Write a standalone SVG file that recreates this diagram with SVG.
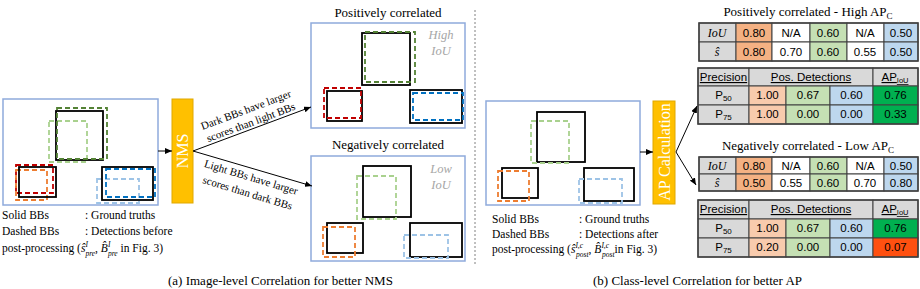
<svg xmlns="http://www.w3.org/2000/svg" width="920" height="289" viewBox="0 0 920 289">
<defs>
<marker id="ah" markerWidth="8" markerHeight="6" refX="7" refY="3" orient="auto" markerUnits="userSpaceOnUse">
<path d="M0,0 L7,3 L0,6 Z" fill="#000"/>
</marker>
<style>
.panel{fill:#fff;stroke:#8FAADC;stroke-width:1.5}
.gt{fill:none;stroke:#000;stroke-width:1.8}
.d{fill:none;stroke-width:1.8;stroke-dasharray:5 3}
.dg{stroke:#548235}.lg{stroke:#A9D18E}.rd{stroke:#C00000}.or{stroke:#ED7D31}.bl{stroke:#0070C0}.lb{stroke:#9DC3E6}
.t{font-family:"Liberation Serif","Times New Roman",serif;fill:#000}
.leg{font-size:11.5px}
.sc{font-style:italic;font-size:7.5px}
.ttl{font-size:13px}
.iou{font-family:"Liberation Serif",serif;font-style:italic;font-size:12.5px;fill:#A6A6A6;text-anchor:middle}
.proc{fill:#FFC000;stroke:#E0A800;stroke-width:1}
.proct{font-family:"Liberation Serif",serif;font-size:16px;fill:#fff;text-anchor:middle}
.c{stroke:#404040;stroke-width:1}
.gray{fill:#D9D9D9}.w{fill:#fff}.o1{fill:#F4B183}.o2{fill:#F8CBAD}.g{fill:#C5E0B4}.b{fill:#BDD7EE}.ag{fill:#00B050}.ar{fill:#FF5010}
.tx{font-family:"Liberation Sans",Arial,sans-serif;font-size:11.5px;fill:#000;text-anchor:middle}
.it{font-family:"Liberation Serif",serif;font-style:italic;font-size:12px;fill:#000;text-anchor:middle}
.conn{stroke:#000;stroke-width:1;fill:none;marker-end:url(#ah)}
.dot{stroke:#808080;stroke-width:1;stroke-dasharray:2 2}
</style>
</defs>

<g id="panel-a-input">
<rect class="panel" x="3" y="99" width="155" height="106"/>
<rect class="d lg" x="49" y="121" width="38" height="41"/>
<rect class="gt" x="56" y="111" width="47" height="49"/>
<rect class="d dg" x="57" y="108" width="50" height="51"/>
<rect class="d rd" x="16" y="165" width="37" height="28"/>
<rect class="d or" x="16" y="170" width="31" height="30"/>
<rect class="gt" x="19" y="167" width="37" height="30"/>
<rect class="d lb" x="97" y="179" width="42" height="24"/>
<rect class="gt" x="102" y="167" width="51" height="33"/>
<rect class="d bl" x="106" y="169" width="49" height="28"/>
</g>
<g id="legend-a" class="t leg">
<text x="2" y="219">Solid BBs</text><text x="85" y="219">: Ground truths</text>
<text x="2" y="235">Dashed BBs</text><text x="85" y="235">: Detections before</text>
<text x="2" y="252">post-processing (<tspan font-style="italic">ŝ</tspan><tspan class="sc" dy="-5.5">I</tspan><tspan class="sc" dx="-2.5" dy="9.5">pre</tspan><tspan dy="-4">, </tspan><tspan font-style="italic">B̂</tspan><tspan class="sc" dy="-5.5">I</tspan><tspan class="sc" dx="-2.5" dy="9.5">pre</tspan><tspan dy="-4"> in Fig. 3)</tspan></text>
</g>

<g id="nms">
<rect class="proc" x="172" y="99" width="21" height="104"/>
<text class="proct" transform="translate(188,151) rotate(-90)" x="0" y="0">NMS</text>
</g>

<g id="panel-a-pos">
<text class="t ttl" x="388" y="17" text-anchor="middle">Positively correlated</text>
<rect class="panel" x="311" y="23" width="154" height="105"/>
<rect class="gt" x="362" y="33" width="48" height="52"/>
<rect class="d dg" x="365" y="32" width="50" height="50"/>
<rect class="gt" x="327" y="91" width="35" height="30"/>
<rect class="d rd" x="324" y="88" width="37" height="30"/>
<rect class="gt" x="410" y="90" width="52" height="33"/>
<rect class="d bl" x="413" y="93" width="50" height="27"/>
<text class="iou" x="441" y="39">High</text>
<text class="iou" x="441" y="55">IoU</text>
</g>

<g id="panel-a-neg">
<text class="t ttl" x="388" y="149" text-anchor="middle">Negatively correlated</text>
<rect class="panel" x="311" y="156" width="154" height="105"/>
<rect class="gt" x="363" y="166" width="48" height="51"/>
<rect class="d lg" x="357" y="176" width="39" height="43"/>
<rect class="gt" x="327" y="223" width="36" height="30"/>
<rect class="d or" x="323" y="227" width="32" height="30"/>
<rect class="gt" x="410" y="223" width="52" height="34"/>
<rect class="d lb" x="404" y="235" width="44" height="23"/>
<text class="iou" x="441" y="173">Low</text>
<text class="iou" x="441" y="189">IoU</text>
</g>

<g id="panel-b-input">
<rect class="panel" x="486" y="101" width="154" height="104"/>
<rect class="gt" x="537" y="112" width="48" height="50"/>
<rect class="d lg" x="531" y="121" width="38" height="42"/>
<rect class="gt" x="502" y="168" width="36" height="30"/>
<rect class="d or" x="498" y="171" width="31" height="30"/>
<rect class="gt" x="584" y="168" width="50" height="33"/>
<rect class="d lb" x="579" y="179" width="43" height="24"/>
</g>
<g id="legend-b" class="t leg">
<text x="492" y="223">Solid BBs</text><text x="579" y="223">: Ground truths</text>
<text x="492" y="238">Dashed BBs</text><text x="579" y="238">: Detections after</text>
<text x="492" y="253">post-processing (<tspan font-style="italic">ŝ</tspan><tspan class="sc" dy="-5.5">I,c</tspan><tspan class="sc" dx="-7" dy="9.5">post</tspan><tspan dy="-4">, </tspan><tspan font-style="italic">B̂</tspan><tspan class="sc" dy="-5.5">I,c</tspan><tspan class="sc" dx="-7" dy="9.5">post</tspan><tspan dy="-4">in Fig. 3)</tspan></text>
</g>

<g id="ap-calc">
<rect class="proc" x="653" y="101" width="22" height="103"/>
<text class="proct" transform="translate(670,152) rotate(-90)" x="0" y="0">AP Calculation</text>
</g>

<g id="table-pos-scores">
<text class="t ttl" x="808" y="16" text-anchor="middle">Positively correlated - High AP<tspan font-size="9px" dy="3">C</tspan></text>
<rect class="c gray" x="699" y="23" width="37" height="19"/><rect class="c o1" x="736" y="23" width="36" height="19"/><rect class="c w" x="772" y="23" width="38" height="19"/><rect class="c g" x="810" y="23" width="37" height="19"/><rect class="c w" x="847" y="23" width="37" height="19"/><rect class="c b" x="884" y="23" width="34" height="19"/>
<rect class="c gray" x="699" y="42" width="37" height="19"/><rect class="c o1" x="736" y="42" width="36" height="19"/><rect class="c w" x="772" y="42" width="38" height="19"/><rect class="c g" x="810" y="42" width="37" height="19"/><rect class="c w" x="847" y="42" width="37" height="19"/><rect class="c b" x="884" y="42" width="34" height="19"/>
<rect x="699" y="23" width="219" height="38" fill="none" stroke="#404040" stroke-width="1.5"/>
<text class="it" x="717" y="37">IoU</text><text class="tx" x="754" y="37">0.80</text><text class="tx" x="791" y="37">N/A</text><text class="tx" x="828" y="37">0.60</text><text class="tx" x="865" y="37">N/A</text><text class="tx" x="901" y="37">0.50</text>
<text class="it" x="717" y="56">ŝ</text><text class="tx" x="754" y="56">0.80</text><text class="tx" x="791" y="56">0.70</text><text class="tx" x="828" y="56">0.60</text><text class="tx" x="865" y="56">0.55</text><text class="tx" x="901" y="56">0.50</text>
</g>

<g id="table-pos-ap">
<rect class="c gray" x="698" y="68" width="51" height="18"/><rect class="c gray" x="749" y="68" width="124" height="18"/><rect class="c gray" x="873" y="68" width="45" height="18"/>
<rect class="c gray" x="698" y="86" width="51" height="19"/><rect class="c o2" x="749" y="86" width="37" height="19"/><rect class="c g" x="786" y="86" width="44" height="19"/><rect class="c b" x="830" y="86" width="43" height="19"/><rect class="c ag" x="873" y="86" width="45" height="19"/>
<rect class="c gray" x="698" y="105" width="51" height="19"/><rect class="c o2" x="749" y="105" width="37" height="19"/><rect class="c g" x="786" y="105" width="44" height="19"/><rect class="c b" x="830" y="105" width="43" height="19"/><rect class="c ag" x="873" y="105" width="45" height="19"/>
<rect x="698" y="68" width="220" height="56" fill="none" stroke="#404040" stroke-width="1.5"/>
<text class="tx" x="723.5" y="81" text-decoration="underline">Precision</text><text class="tx" x="811" y="81" text-decoration="underline">Pos. Detections</text><text class="tx" x="895" y="81" text-decoration="underline">AP<tspan font-size="7.5px" dy="2">IoU</tspan></text>
<text class="tx" x="723.5" y="99">P<tspan font-size="8px" dy="2">50</tspan></text><text class="tx" x="767.5" y="99">1.00</text><text class="tx" x="808" y="99">0.67</text><text class="tx" x="851.5" y="99">0.60</text><text class="tx" x="895.5" y="99">0.76</text>
<text class="tx" x="723.5" y="118">P<tspan font-size="8px" dy="2">75</tspan></text><text class="tx" x="767.5" y="118">1.00</text><text class="tx" x="808" y="118">0.00</text><text class="tx" x="851.5" y="118">0.00</text><text class="tx" x="895.5" y="118">0.33</text>
</g>

<g id="table-neg-scores">
<text class="t ttl" x="808" y="150" text-anchor="middle">Negatively correlated - Low AP<tspan font-size="9px" dy="3">C</tspan></text>
<rect class="c gray" x="699" y="157" width="37" height="17"/><rect class="c o1" x="736" y="157" width="36" height="17"/><rect class="c w" x="772" y="157" width="38" height="17"/><rect class="c g" x="810" y="157" width="37" height="17"/><rect class="c w" x="847" y="157" width="37" height="17"/><rect class="c b" x="884" y="157" width="34" height="17"/>
<rect class="c gray" x="699" y="174" width="37" height="17"/><rect class="c o1" x="736" y="174" width="36" height="17"/><rect class="c w" x="772" y="174" width="38" height="17"/><rect class="c g" x="810" y="174" width="37" height="17"/><rect class="c w" x="847" y="174" width="37" height="17"/><rect class="c b" x="884" y="174" width="34" height="17"/>
<rect x="699" y="157" width="219" height="34" fill="none" stroke="#404040" stroke-width="1.5"/>
<text class="it" x="717" y="170">IoU</text><text class="tx" x="754" y="170">0.80</text><text class="tx" x="791" y="170">N/A</text><text class="tx" x="828" y="170">0.60</text><text class="tx" x="865" y="170">N/A</text><text class="tx" x="901" y="170">0.50</text>
<text class="it" x="717" y="187">ŝ</text><text class="tx" x="754" y="187">0.50</text><text class="tx" x="791" y="187">0.55</text><text class="tx" x="828" y="187">0.60</text><text class="tx" x="865" y="187">0.70</text><text class="tx" x="901" y="187">0.80</text>
</g>

<g id="table-neg-ap">
<rect class="c gray" x="698" y="200" width="51" height="19"/><rect class="c gray" x="749" y="200" width="124" height="19"/><rect class="c gray" x="873" y="200" width="45" height="19"/>
<rect class="c gray" x="698" y="219" width="51" height="19"/><rect class="c o2" x="749" y="219" width="37" height="19"/><rect class="c g" x="786" y="219" width="44" height="19"/><rect class="c b" x="830" y="219" width="43" height="19"/><rect class="c ag" x="873" y="219" width="45" height="19"/>
<rect class="c gray" x="698" y="238" width="51" height="19"/><rect class="c o2" x="749" y="238" width="37" height="19"/><rect class="c g" x="786" y="238" width="44" height="19"/><rect class="c b" x="830" y="238" width="43" height="19"/><rect class="c ar" x="873" y="238" width="45" height="19"/>
<rect x="698" y="200" width="220" height="57" fill="none" stroke="#404040" stroke-width="1.5"/>
<text class="tx" x="723.5" y="213" text-decoration="underline">Precision</text><text class="tx" x="811" y="213" text-decoration="underline">Pos. Detections</text><text class="tx" x="895" y="213" text-decoration="underline">AP<tspan font-size="7.5px" dy="2">IoU</tspan></text>
<text class="tx" x="723.5" y="232">P<tspan font-size="8px" dy="2">50</tspan></text><text class="tx" x="767.5" y="232">1.00</text><text class="tx" x="808" y="232">0.67</text><text class="tx" x="851.5" y="232">0.60</text><text class="tx" x="895.5" y="232">0.76</text>
<text class="tx" x="723.5" y="251">P<tspan font-size="8px" dy="2">75</tspan></text><text class="tx" x="767.5" y="251">0.20</text><text class="tx" x="808" y="251">0.00</text><text class="tx" x="851.5" y="251">0.00</text><text class="tx" x="895.5" y="251">0.07</text>
</g>

<g id="connectors">
<line class="conn" x1="158" y1="151" x2="172" y2="151"/>
<line class="conn" x1="193" y1="151" x2="311" y2="107"/>
<line class="conn" x1="193" y1="151" x2="312" y2="186"/>
<line class="conn" x1="640" y1="152" x2="653" y2="152"/>
<line class="conn" x1="676" y1="152" x2="697" y2="106"/>
<line class="conn" x1="676" y1="152" x2="696" y2="185"/>
<g class="t" font-size="11px" text-anchor="middle">
<text transform="translate(246,110) rotate(-20.6)" dy="3.5">Dark BBs have larger</text>
<text transform="translate(251,122.5) rotate(-20.6)" dy="3.5">scores than light BBs</text>
<text transform="translate(251,177.5) rotate(16.8)" dy="3.5">Light BBs have larger</text>
<text transform="translate(247.5,193) rotate(16.8)" dy="3.5">scores than dark BBs</text>
</g>
</g>

<line class="dot" x1="475" y1="10" x2="475" y2="266"/>

<text class="t" font-size="13px" x="168" y="285">(a) Image-level Correlation for better NMS</text>
<text class="t" font-size="13px" x="593" y="285">(b) Class-level Correlation for better AP</text>
</svg>
